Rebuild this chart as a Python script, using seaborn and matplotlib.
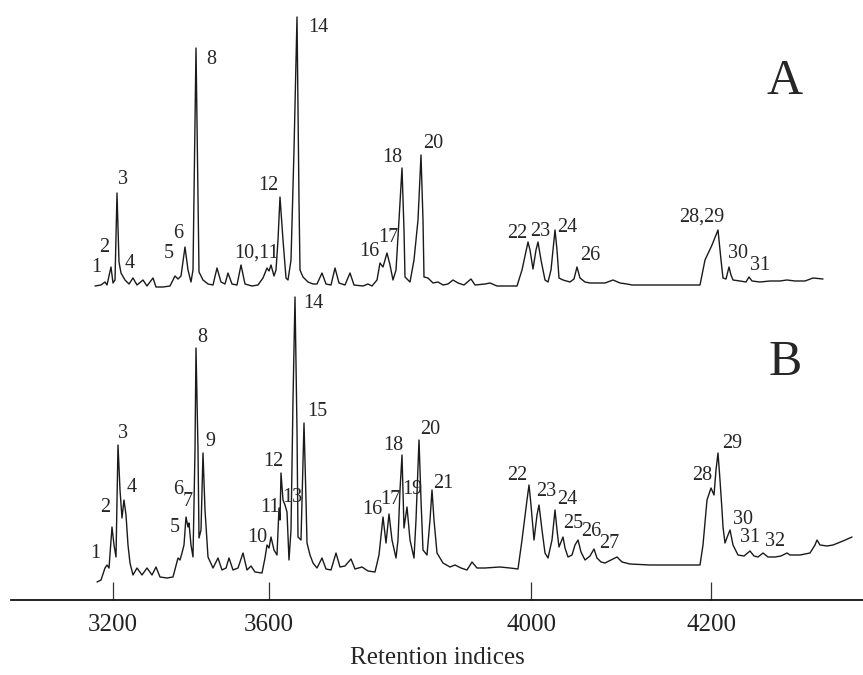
import numpy as np
import pandas as pd
import matplotlib
matplotlib.use("Agg")
import matplotlib.pyplot as plt
import seaborn as sns

# ── Data: two chromatogram traces (retention time in arb. units, detector signal) ──
rt_a = [95, 101, 105, 107, 111, 113, 115, 117, 119, 121, 125, 129, 133, 137, 143, 147,
        153, 156, 163, 170, 175, 178, 181, 185, 188, 191, 193, 196, 199, 203, 208, 213,
        217, 221, 225, 228, 232, 237, 241, 245, 252, 258, 263, 267, 269, 271, 274, 276,
        278, 280, 283, 286, 288, 291, 294, 297, 299, 300, 303, 308, 313, 317, 322, 326,
        331, 335, 339, 345, 350, 354, 363, 368, 372, 377, 380, 383, 387, 390, 393, 396,
        399, 402, 404, 405, 410, 414, 418, 421, 423, 424, 428, 433, 438, 443, 448, 453,
        458, 464, 471, 475, 485, 490, 497, 517, 522, 528, 530, 533, 536, 538, 541, 545,
        548, 551, 555, 557, 559, 563, 570, 574, 577, 580, 585, 590, 597, 605, 613, 620,
        627, 632, 700, 705, 712, 718, 721, 723, 726, 729, 731, 733, 740, 746, 749, 752,
        760, 770, 780, 787, 795, 805, 813, 823]
sig_a = [1, 2, 5, 2, 20, 4, 7, 94, 25, 14, 7, 3, 9, 2, 7, 1,
         9, 0, 0, 1, 11, 8, 11, 40, 17, 5, 17, 239, 15, 7, 3, 2,
         19, 5, 3, 14, 3, 2, 22, 3, 1, 2, 9, 19, 16, 22, 11, 17,
         47, 90, 47, 9, 7, 27, 137, 270, 87, 17, 10, 5, 3, 3, 14, 3,
         2, 19, 4, 2, 14, 2, 1, 3, 1, 7, 24, 20, 34, 22, 7, 17,
         67, 119, 57, 10, 5, 27, 67, 132, 67, 10, 9, 4, 5, 2, 3, 7,
         4, 2, 8, 2, 3, 4, 1, 1, 17, 45, 37, 18, 37, 45, 27, 7,
         5, 17, 57, 37, 9, 7, 5, 8, 20, 9, 5, 4, 4, 4, 7, 4,
         3, 2, 2, 27, 42, 57, 27, 9, 8, 20, 12, 7, 6, 5, 10, 6,
         5, 6, 6, 7, 6, 6, 9, 8]

rt_b = [97, 101, 105, 107, 109, 112, 114, 116, 118, 120, 122, 124, 126, 128, 130, 133,
        137, 142, 147, 152, 156, 160, 167, 173, 178, 180, 182, 184, 186, 188, 189, 191,
        193, 195, 196, 198, 199, 201, 203, 205, 208, 213, 218, 222, 226, 229, 233, 238,
        243, 247, 251, 255, 262, 265, 267, 269, 271, 274, 277, 279, 280, 281, 283, 285,
        287, 289, 291, 293, 295, 297, 298, 301, 302, 304, 306, 307, 310, 313, 317, 322,
        326, 331, 336, 340, 345, 351, 355, 362, 368, 375, 379, 383, 386, 389, 392, 396,
        398, 400, 402, 404, 407, 410, 414, 416, 419, 421, 423, 427, 430, 432, 434, 437,
        443, 450, 455, 461, 467, 472, 477, 485, 500, 510, 518, 522, 527, 529, 531, 534,
        537, 539, 542, 545, 548, 552, 555, 557, 559, 563, 565, 568, 572, 575, 578, 581,
        585, 590, 594, 597, 601, 605, 611, 617, 622, 630, 650, 670, 690, 700, 703, 707,
        711, 714, 716, 718, 720, 722, 723, 725, 728, 730, 733, 738, 744, 750, 754, 758,
        763, 768, 775, 781, 787, 790, 800, 810, 815, 817, 820, 827, 833, 843, 852]
sig_b = [0, 2, 14, 17, 14, 55, 37, 25, 137, 92, 64, 82, 67, 37, 19, 7,
         14, 7, 14, 7, 15, 5, 4, 5, 24, 22, 29, 37, 65, 55, 59, 37,
         25, 132, 234, 132, 44, 52, 129, 72, 25, 14, 24, 12, 14, 24, 12, 14,
         29, 12, 16, 10, 9, 24, 37, 34, 45, 32, 27, 74, 62, 109, 82, 77,
         70, 22, 52, 182, 285, 152, 45, 42, 82, 159, 82, 39, 27, 19, 14, 24,
         13, 12, 29, 15, 16, 23, 13, 15, 11, 10, 27, 65, 39, 68, 42, 24,
         42, 92, 127, 54, 75, 42, 24, 62, 142, 82, 32, 27, 62, 92, 62, 29,
         19, 15, 17, 14, 12, 20, 14, 14, 15, 14, 13, 42, 82, 97, 77, 42,
         67, 77, 52, 29, 24, 42, 72, 52, 35, 45, 34, 25, 27, 37, 42, 30,
         22, 26, 33, 24, 20, 19, 22, 25, 20, 18, 17, 17, 17, 17, 37, 82,
         94, 87, 112, 129, 102, 72, 55, 39, 47, 52, 37, 27, 26, 31, 26, 25,
         29, 25, 25, 26, 29, 27, 27, 29, 37, 42, 37, 36, 37, 41, 45]

# retention-index ticks and where they fall on the retention-time axis
ri_labels = ["3200", "3600", "4000", "4200"]
ri_at_rt = [113, 269, 531, 711]

# peak numbers
peaks_a = ["1", "2", "3", "4", "5", "6", "8", "10,11", "12", "14", "16", "17", "18",
           "20", "22", "23", "24", "26", "28,29", "30", "31"]
peaks_b = [str(i) for i in range(1, 33)]

# ── Layout (label placement, trace offsets) ──
OFFSET_A, OFFSET_B = 313, 18
pos_a = [(96, 332), (104, 352), (123, 420), (130, 337), (169, 347), (178, 367),
         (211, 540), (257, 347), (268, 415), (318, 572), (369, 349), (388, 363),
         (392, 443), (433, 457), (517, 367), (540, 369), (567, 372), (590, 345),
         (702, 383), (738, 347), (760, 335)]
pos_b = [(95, 47), (105, 93), (123, 167), (132, 113), (175, 72), (178, 110),
         (188, 98), (202, 262), (210, 158), (257, 63), (270, 92), (273, 139),
         (292, 103), (313, 297), (317, 188), (372, 90), (390, 100), (393, 155),
         (412, 110), (430, 171), (443, 117), (517, 125), (546, 108), (567, 100),
         (573, 77), (591, 68), (609, 57), (702, 125), (732, 157), (743, 80),
         (750, 62), (775, 58)]

df = pd.concat([
    pd.DataFrame({"rt": rt_a, "signal": np.array(sig_a) + OFFSET_A, "run": "A"}),
    pd.DataFrame({"rt": rt_b, "signal": np.array(sig_b) + OFFSET_B, "run": "B"}),
])

sns.set_style("white")
plt.rcParams["font.family"] = ["Liberation Serif", "DejaVu Serif"]

fig = plt.figure(figsize=(8.63, 6.75), dpi=100)
ax = fig.add_axes([11 / 863, 75 / 675, 852 / 863, 600 / 675])

sns.lineplot(data=df, x="rt", y="signal", units="run", estimator=None, sort=False,
             color="#1a1a1a", lw=1.0, ax=ax, legend=False)

for txt, (x, y) in zip(peaks_a, pos_a):
    ax.text(x, y, txt, ha="center", va="center", fontsize=14.5)
for txt, (x, y) in zip(peaks_b, pos_b):
    ax.text(x, y, txt, ha="center", va="center", fontsize=14.5)
ax.text(785, 518, "A", ha="center", va="center", fontsize=36)
ax.text(785, 237, "B", ha="center", va="center", fontsize=36)

ax.set_xlim(11, 863)
ax.set_ylim(0, 600)
ax.set_xticks(ri_at_rt)
ax.set_xticklabels(ri_labels, fontsize=18, color="#222")
ax.set_yticks([])
ax.set_ylabel("")
ax.tick_params(axis="x", bottom=True, direction="in", length=13, width=0.9,
               pad=10, color="#333")
ax.set_xlabel("Retention indices", fontsize=18, labelpad=8)
for s in ["top", "right", "left"]:
    ax.spines[s].set_visible(False)
ax.spines["bottom"].set_linewidth(1.3)
ax.spines["bottom"].set_color("#111")
ax.patch.set_alpha(0)

fig.savefig("out.png", dpi=100)
